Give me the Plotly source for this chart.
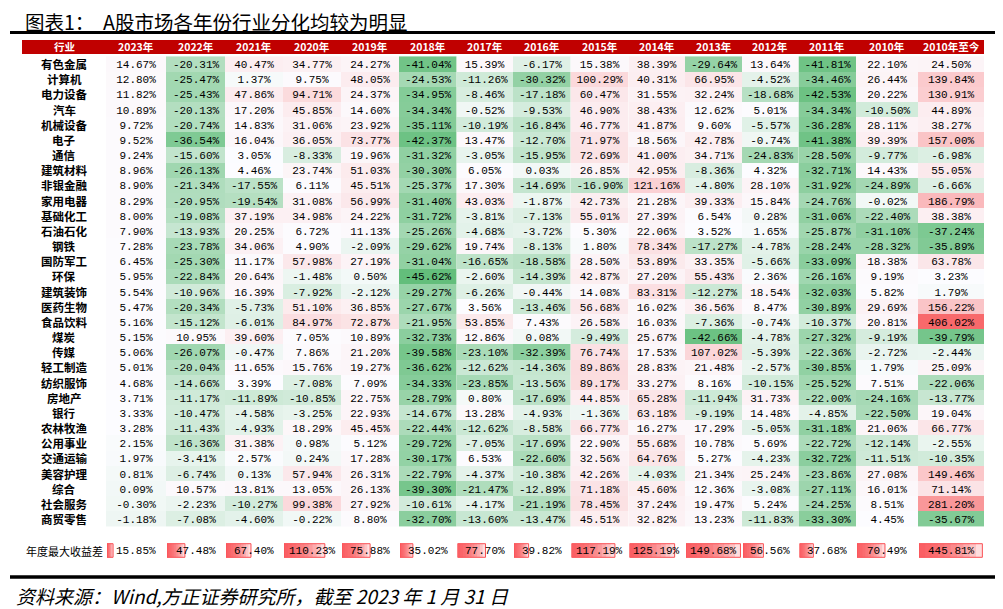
import numpy as np
import plotly.graph_objects as go

W, H = 1003, 609
OFF = 8                      # default page margin of the html body
FW, FH = W - OFF, H - OFF    # figure size so that it fills the window

# ---------------- data ----------------
industries = ["有色金属", "计算机", "电力设备", "汽车", "机械设备", "电子", "通信", "建筑材料", "非银金融", "家用电器",
              "基础化工", "石油石化", "钢铁", "国防军工", "环保", "建筑装饰", "医药生物", "食品饮料", "煤炭", "传媒",
              "轻工制造", "纺织服饰", "房地产", "银行", "农林牧渔", "公用事业", "交通运输", "美容护理", "综合", "社会服务", "商贸零售"]

header_first = "行业"
col_labels = ["2023年", "2022年", "2021年", "2020年", "2019年", "2018年", "2017年", "2016年", "2015年", "2014年",
              "2013年", "2012年", "2011年", "2010年", "2010年至今"]

y2023 = [14.67, 12.80, 11.82, 10.89, 9.72, 9.52, 9.24, 8.96, 8.90, 8.29, 8.00, 7.90, 7.28, 6.45, 5.95, 5.54, 5.47, 5.16,
         5.15, 5.06, 5.01, 4.68, 3.71, 3.33, 3.28, 2.15, 1.97, 0.81, 0.09, -0.30, -1.18]
y2022 = [-20.31, -25.47, -25.43, -20.13, -20.74, -36.54, -15.60, -26.13, -21.34, -20.95, -19.08, -13.93, -23.78, -25.30,
         -22.84, -10.96, -20.34, -15.12, 10.95, -26.07, -20.04, -14.66, -11.17, -10.47, -11.43, -16.36, -3.41, -6.74,
         10.57, -2.23, -7.08]
y2021 = [40.47, 1.37, 47.86, 17.20, 14.83, 16.04, 3.05, 4.46, -17.55, -19.54, 37.19, 20.25, 34.06, 11.17, 20.64, 16.39,
         -5.73, -6.01, 39.60, -0.47, 11.65, 3.39, -11.89, -4.58, -4.93, 31.38, 2.57, 0.13, 13.81, -10.27, -4.60]
y2020 = [34.77, 9.75, 94.71, 45.85, 31.06, 36.05, -8.33, 23.74, 6.11, 31.08, 34.98, 6.72, 4.90, 57.98, -1.48, -7.92,
         51.10, 84.97, 7.05, 7.86, 15.76, -7.08, -10.85, -3.25, 18.29, 0.98, 0.24, 57.94, 13.05, 99.38, -0.22]
y2019 = [24.27, 48.05, 24.37, 14.60, 23.92, 73.77, 19.96, 51.03, 45.51, 56.99, 24.22, 11.13, -2.09, 27.19, 0.50, -2.12,
         36.85, 72.87, 10.89, 21.20, 19.27, 7.09, 22.75, 22.93, 45.45, 5.12, 17.28, 26.31, 26.13, 27.92, 8.80]
y2018 = [-41.04, -24.53, -34.95, -34.34, -35.11, -42.37, -31.32, -30.30, -25.37, -31.40, -31.72, -25.26, -29.62, -31.04,
         -45.62, -29.27, -27.67, -21.95, -32.73, -39.58, -36.62, -34.33, -28.79, -14.67, -22.44, -29.72, -30.17, -22.79,
         -39.30, -10.61, -32.70]
y2017 = [15.39, -11.26, -8.46, -0.52, -10.19, 13.47, -3.05, 6.05, 17.30, 43.03, -3.81, -4.68, 19.74, -16.65, -2.60,
         -6.26, 3.56, 53.85, 12.86, -23.10, -12.62, -23.85, 0.80, 13.28, -12.62, -7.05, 6.53, -4.37, -21.47, -4.17, -13.60]
y2016 = [-6.17, -30.32, -17.18, -9.53, -16.84, -12.70, -15.95, 0.03, -14.69, -1.87, -7.13, -3.72, -8.13, -18.58, -14.39,
         -0.44, -13.46, 7.43, 0.08, -32.39, -14.36, -13.56, -17.69, -4.93, -8.58, -17.69, -22.60, -10.38, -12.89, -21.19,
         -13.47]
y2015 = [15.38, 100.29, 60.47, 46.90, 46.77, 71.97, 72.69, 26.85, -16.90, 42.73, 55.01, 5.30, 1.80, 28.50, 42.87, 14.08,
         56.68, 26.58, -9.49, 76.74, 89.86, 89.17, 44.85, -1.36, 66.77, 22.90, 32.56, 42.26, 71.18, 78.45, 45.51]
y2014 = [38.39, 40.31, 31.55, 38.43, 41.87, 18.56, 41.00, 42.95, 121.16, 21.28, 27.39, 22.06, 78.34, 53.89, 27.20, 83.31,
         16.02, 16.03, 25.67, 17.53, 28.83, 33.27, 65.28, 63.18, 16.27, 55.68, 64.76, -4.03, 45.60, 37.24, 32.82]
y2013 = [-29.64, 66.95, 32.24, 12.62, 9.60, 42.78, 34.71, -8.36, -4.80, 39.33, 6.54, 3.52, -17.27, 33.35, 55.43, -12.27,
         36.56, -7.36, -42.66, 107.02, 21.48, 8.16, -11.94, -9.19, 17.29, 10.78, 5.27, 21.34, 12.36, 19.47, 13.23]
y2012 = [13.64, -4.52, -18.68, 5.01, -5.57, -0.74, -24.83, 4.32, 28.10, 15.84, 0.28, 1.65, -4.78, -5.66, 2.36, 18.54,
         8.47, -0.74, -4.78, -5.39, -2.57, -10.15, 31.73, 14.48, -5.05, 5.69, -4.23, 25.24, -3.08, 5.24, -11.83]
y2011 = [-41.81, -34.46, -42.53, -34.34, -36.28, -41.38, -28.50, -32.71, -31.92, -24.76, -31.06, -25.87, -28.24, -33.09,
         -26.16, -32.03, -30.89, -10.37, -27.32, -22.36, -30.85, -25.52, -22.00, -4.85, -31.18, -22.72, -32.72, -23.86,
         -27.11, -24.25, -33.30]
y2010 = [22.10, 26.44, 20.22, -10.50, 28.11, 39.39, -9.77, 14.43, -24.89, -0.02, -22.40, -31.10, -28.32, 18.38, 9.19,
         5.82, 29.69, 20.81, -9.19, -2.72, 1.79, 7.51, -24.16, -22.50, 21.06, -12.14, -11.51, 27.08, 16.01, 8.51, 4.45]
since2010 = [24.50, 139.84, 130.91, 44.89, 38.27, 157.00, -6.98, 55.05, -6.66, 186.79, 38.38, -37.24, -35.89, 63.78,
             3.23, 1.79, 156.22, 406.02, -39.79, -2.44, 25.09, -22.06, -13.77, 19.04, 66.77, -2.55, -10.35, 149.46,
             71.14, 281.20, -35.67]

spread_label = "年度最大收益差"
max_spread = [15.85, 47.48, 67.40, 110.23, 75.88, 35.02, 77.70, 39.82, 117.19, 125.19, 149.68, 56.56, 37.68, 70.49,
              445.81]

title_text = "图表1：  A股市场各年份行业分化均较为明显"
source_text = "资料来源：Wind,方正证券研究所，截至 2023 年 1 月 31 日"

columns = [y2023, y2022, y2021, y2020, y2019, y2018, y2017, y2016, y2015, y2014, y2013, y2012, y2011, y2010, since2010]

# ---------------- layout constants (page pixels) ----------------
col_edges = [22, 106, 166, 225, 283, 341, 399, 456.5, 513, 570.5, 628.5, 685, 742, 798.5, 856, 918, 984]
HEADER = (40, 54)
BODY = (54, 529)
BAR_ROW = (542, 559)

def X(px):
    return (px - OFF) / FW

def Y(py):
    return 1 - (py - OFF) / FH

# ---------------- colour scale (green - white - red, Excel style) ----------------
allv = np.array(columns).ravel()
vmin, vmax, vmid = float(allv.min()), float(allv.max()), float(np.median(allv))
p_mid = (vmid - vmin) / (vmax - vmin)
cscale = [[0, "rgb(99,190,123)"], [p_mid, "rgb(252,252,255)"], [1, "rgb(248,105,107)"]]

fig = go.Figure()
layout_axes = {}
annotations = []
n = len(columns)

# y axis for the table body
layout_axes["yaxis"] = dict(domain=[Y(BODY[1]), Y(BODY[0])], type="category", autorange="reversed",
                            visible=False, fixedrange=True, anchor="x")

for j, col in enumerate(columns):
    ax = "" if j == 0 else str(j + 1)
    left, right = col_edges[j + 1], col_edges[j + 2]
    layout_axes[f"xaxis{ax}"] = dict(domain=[X(left), X(right)], visible=False, fixedrange=True, anchor="y")
    fig.add_trace(go.Heatmap(
        z=[[v] for v in col], x=[col_labels[j]], y=industries,
        xaxis=f"x{ax}", yaxis="y",
        zmin=vmin, zmax=vmax, colorscale=cscale, showscale=False,
        xgap=0, ygap=0, hoverinfo="skip",
        texttemplate="%{z:.2f}%",
        textfont=dict(family="Liberation Mono", size=11, color="black"),
    ))
    # header label
    annotations.append(dict(xref=f"x{ax} domain", yref="paper", x=0.5, y=Y(sum(HEADER) / 2),
                            xanchor="center", yanchor="middle", showarrow=False,
                            text=f"<b>{col_labels[j]}</b>",
                            font=dict(family="Noto Sans CJK SC", size=10.5, color="white")))

# industry names
label_cx = (col_edges[0] + col_edges[1]) / 2
for name in industries:
    annotations.append(dict(xref="paper", yref="y", x=X(label_cx), y=name, xanchor="center", yanchor="middle",
                            showarrow=False, text=f"<b>{name}</b>",
                            font=dict(family="Noto Sans CJK SC", size=11.5, color="black")))
annotations.append(dict(xref="paper", yref="paper", x=X(label_cx), y=Y(sum(HEADER) / 2),
                        xanchor="center", yanchor="middle", showarrow=False, text=f"<b>{header_first}</b>",
                        font=dict(family="Noto Sans CJK SC", size=10.5, color="white")))

# ---------------- data-bar row ----------------
annual_max = max(max_spread[:-1])
layout_axes["yaxis2"] = dict(domain=[Y(BAR_ROW[1]), Y(BAR_ROW[0])], anchor=f"x{n + 1}", range=[-0.5, 0.5],
                             visible=False, fixedrange=True)
N_LAYERS = 10
for j, v in enumerate(max_spread):
    ax = n + 1 + j
    left, right = col_edges[j + 1], col_edges[j + 2]
    scale_max = annual_max if j < len(max_spread) - 1 else v
    layout_axes[f"xaxis{ax}"] = dict(domain=[X(left + 1), X(right - 1)], range=[0, scale_max * 1.01],
                                     visible=False, fixedrange=True, anchor="y2")
    for k in range(1, N_LAYERS + 1):
        fig.add_trace(go.Bar(x=[v * k / N_LAYERS], y=[0], orientation="h", width=0.8,
                             xaxis=f"x{ax}", yaxis="y2", showlegend=False, hoverinfo="skip",
                             marker=dict(color="rgba(250,70,75,0.18)", line=dict(width=0))))
    fig.add_trace(go.Bar(x=[v], y=[0], orientation="h", width=0.8, xaxis=f"x{ax}", yaxis="y2",
                         showlegend=False, hoverinfo="skip",
                         marker=dict(color="rgba(0,0,0,0)", line=dict(color="rgb(250,80,85)", width=1))))
    annotations.append(dict(xref=f"x{ax} domain", yref="y2 domain", x=0.5, y=0.5, xanchor="center",
                            yanchor="middle", showarrow=False, text=f"{v:.2f}%",
                            font=dict(family="Liberation Mono", size=11, color="black")))

annotations.append(dict(xref="paper", yref="paper", x=X(64), y=Y(sum(BAR_ROW) / 2), xanchor="center",
                        yanchor="middle", showarrow=False, text=spread_label,
                        font=dict(family="Noto Sans CJK SC", size=11, color="black")))
annotations.append(dict(xref="paper", yref="paper", x=X(24), y=Y(21.5), xanchor="left", yanchor="middle",
                        showarrow=False, text=title_text, borderpad=0,
                        font=dict(family="Noto Sans CJK SC", size=19.5, color="black")))
annotations.append(dict(xref="paper", yref="paper", x=X(14), y=Y(595), xanchor="left", yanchor="middle",
                        showarrow=False, text=f"<i>{source_text}</i>",
                        font=dict(family="Noto Sans CJK SC", size=19, color="black")))

shapes = [
    dict(type="rect", xref="paper", yref="paper", x0=X(col_edges[0]), x1=X(col_edges[-1]),
         y0=Y(HEADER[1]), y1=Y(HEADER[0]), fillcolor="#C00000", line=dict(width=0), layer="below"),
    dict(type="line", xref="paper", yref="paper", x0=X(10), x1=X(1000), y0=Y(32.5), y1=Y(32.5),
         line=dict(color="black", width=3)),
    dict(type="line", xref="paper", yref="paper", x0=X(10), x1=X(1000), y0=Y(577), y1=Y(577),
         line=dict(color="black", width=3.5)),
]

fig.update_layout(
    width=FW, height=FH,
    margin=dict(l=0, r=0, t=0, b=0),
    paper_bgcolor="white", plot_bgcolor="rgba(0,0,0,0)",
    barmode="overlay",
    showlegend=False,
    annotations=annotations,
    shapes=shapes,
    **layout_axes,
)

fig.write_html("out.html")
